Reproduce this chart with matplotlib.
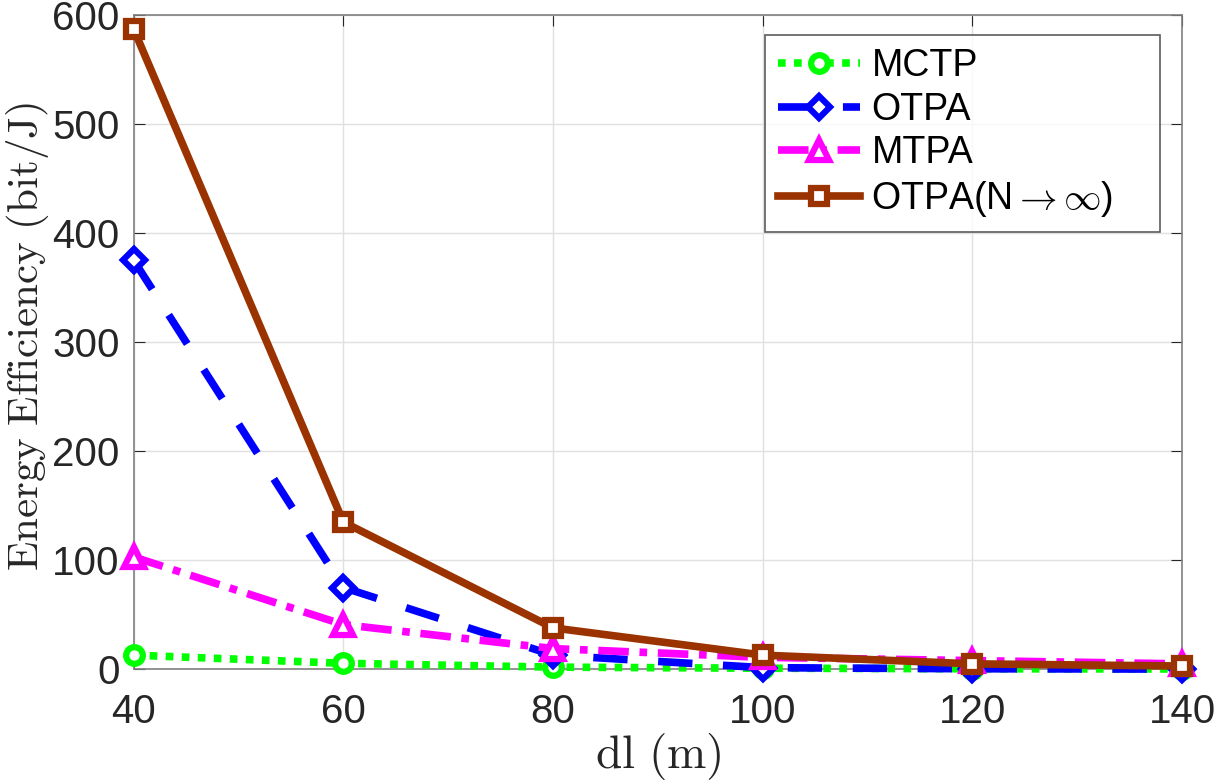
import matplotlib.pyplot as plt

plt.rcParams['mathtext.fontset'] = 'cm'
plt.rcParams['font.family'] = ['Liberation Sans', 'DejaVu Sans']

dl = [40, 60, 80, 100, 120, 140]
mctp = [13, 5.5, 2, 1, 0.5, 0.3]
otpa = [375, 75, 13, 1.5, 0.5, 0.2]
mtpa = [103, 41, 19, 11, 8, 5]
otpa_inf = [587, 135, 38, 13, 5, 3]

fig = plt.figure(figsize=(12.15, 7.81), dpi=100)
ax = fig.add_axes([0.110, 0.143, 0.863, 0.838])

lw = 5.5
common = dict(lw=lw, mfc='white', mew=4.5, clip_on=False, zorder=3)
ax.plot(dl, mctp, color=(0, 1, 0), ls=(0, (1, 1.1)), marker='o', ms=12,
        label='MCTP', **common)
ax.plot(dl, otpa, color=(0, 0, 1), ls=(0, (4.5, 4)), marker='D', ms=11,
        label='OTPA', **common)
ax.plot(dl, mtpa, color=(1, 0, 1), ls=(0, (4, 1.4, 1, 1.4)), marker='^', ms=14,
        label='MTPA', **common)
ax.plot(dl, otpa_inf, color='#9a3300', ls='-', marker='s', ms=11,
        label=r'OTPA(N$\rightarrow\infty$)    ', **common)

ax.set_xlim(40, 140)
ax.set_ylim(0, 600)
ax.set_xticks(dl)
ax.set_yticks(range(0, 601, 100))
ax.tick_params(labelsize=29, direction='in', length=8, colors='#262626',
               top=True, right=True)
ax.tick_params(axis='x', pad=17)
ax.tick_params(axis='y', pad=10)
for s in ax.spines.values():
    s.set_color('#808080')
    s.set_linewidth(1.2)
ax.grid(True, color='#e0e0e0', lw=1)

ax.set_xlabel(r'$\mathrm{dl\ (m)}$', fontsize=34, color='#262626', labelpad=0)
ax.set_ylabel(r'$\mathrm{Energy\ Efficiency\ (bit/J)}$', fontsize=31,
              color='#262626')
ax.yaxis.set_label_coords(-0.079, 0.509)

leg = ax.legend(loc='upper right', fontsize=27, frameon=True, fancybox=False,
                edgecolor='#333333', handlelength=2.2, borderpad=0.35,
                labelspacing=0.2, handletextpad=0.3, borderaxespad=0,
                bbox_to_anchor=(0.979, 0.969))
leg.get_frame().set_linewidth(1.2)

fig.savefig('out.png', dpi=100)
